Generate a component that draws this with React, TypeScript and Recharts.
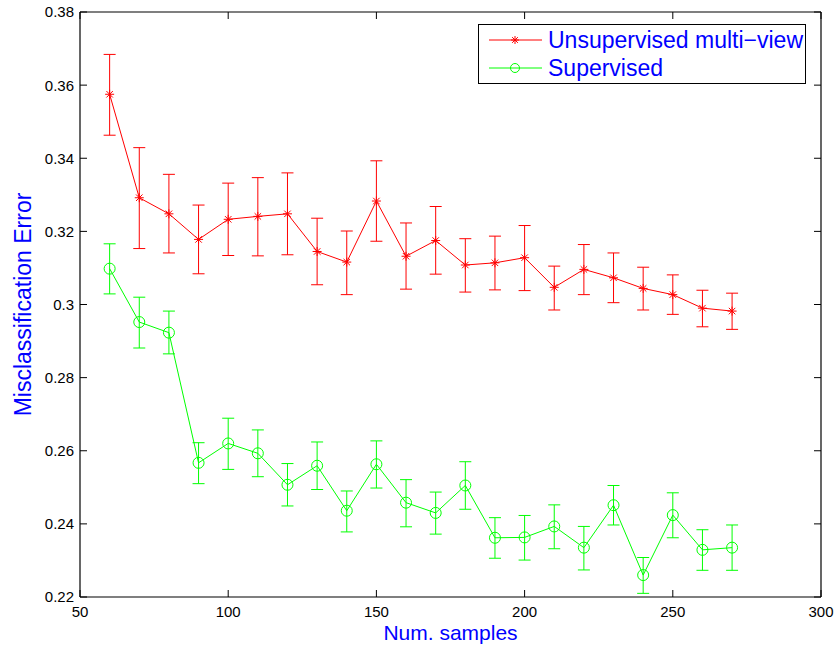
import {
  ComposedChart,
  Line,
  XAxis,
  YAxis,
  ErrorBar,
  Legend,
  ReferenceLine,
} from "recharts";

const samples = [60, 70, 80, 90, 100, 110, 120, 130, 140, 150, 160, 170, 180, 190, 200, 210, 220, 230, 240, 250, 260, 270];

const unsupMean = [0.3575, 0.3292, 0.3248, 0.3178, 0.3233, 0.3241, 0.3248, 0.3145, 0.3116, 0.3283, 0.3132, 0.3175, 0.3108, 0.3114, 0.3128, 0.3047, 0.3096, 0.3073, 0.3044, 0.3027, 0.299, 0.2982];
const unsupUpper = [0.3684, 0.3429, 0.3356, 0.3272, 0.3332, 0.3347, 0.336, 0.3236, 0.3201, 0.3393, 0.3223, 0.3268, 0.318, 0.3187, 0.3216, 0.3105, 0.3164, 0.3141, 0.3102, 0.3081, 0.3039, 0.3031];
const unsupLower = [0.3463, 0.3153, 0.3141, 0.3084, 0.3134, 0.3133, 0.3136, 0.3054, 0.3027, 0.3173, 0.3042, 0.3083, 0.3034, 0.304, 0.3038, 0.2985, 0.3027, 0.3005, 0.2985, 0.2973, 0.2939, 0.2932];

const supMean = [0.3098, 0.2952, 0.2923, 0.2567, 0.262, 0.2593, 0.2507, 0.2559, 0.2436, 0.2563, 0.2458, 0.243, 0.2505, 0.2362, 0.2363, 0.2393, 0.2335, 0.2451, 0.226, 0.2424, 0.2329, 0.2335];
const supUpper = [0.3166, 0.302, 0.2982, 0.2622, 0.2689, 0.2657, 0.2565, 0.2624, 0.249, 0.2627, 0.2521, 0.2487, 0.257, 0.2417, 0.2423, 0.2452, 0.2393, 0.2505, 0.2308, 0.2485, 0.2384, 0.2397];
const supLower = [0.3029, 0.2881, 0.2865, 0.251, 0.2549, 0.2529, 0.2449, 0.2494, 0.2378, 0.2498, 0.2392, 0.2372, 0.244, 0.2306, 0.2301, 0.2332, 0.2274, 0.2397, 0.221, 0.2362, 0.2273, 0.2273];

const seriesNames = ["Unsupervised multi−view", "Supervised"];

const xTicks = [50, 100, 150, 200, 250, 300];
const yTicks = [0.22, 0.24, 0.26, 0.28, 0.3, 0.32, 0.34, 0.36, 0.38];

const RED = "#ff0000";
const GREEN = "#00ff00";
const BLUE = "#0000ff";
const FONT = "'Liberation Sans', Arial, Helvetica, sans-serif";

// plot box (pixels) — follows from margins / axis sizes below
const PLOT_LEFT = 80;
const PLOT_RIGHT = 821;
const PLOT_TOP = 12;
const PLOT_BOTTOM = 597;
const TICK = 7;

const data = samples.map((x, i) => ({
  x,
  unsup: unsupMean[i],
  unsupErr: [unsupMean[i] - unsupLower[i], unsupUpper[i] - unsupMean[i]],
  sup: supMean[i],
  supErr: [supMean[i] - supLower[i], supUpper[i] - supMean[i]],
}));

function Star({ cx, cy, r = 4.5, color = RED }: any) {
  const d = r * 0.72;
  return (
    <g stroke={color} strokeWidth={1}>
      <line x1={cx - r} y1={cy} x2={cx + r} y2={cy} />
      <line x1={cx} y1={cy - r} x2={cx} y2={cy + r} />
      <line x1={cx - d} y1={cy - d} x2={cx + d} y2={cy + d} />
      <line x1={cx - d} y1={cy + d} x2={cx + d} y2={cy - d} />
    </g>
  );
}

function Ring({ cx, cy, r = 5.5, color = GREEN }: any) {
  return <circle cx={cx} cy={cy} r={r} fill="none" stroke={color} strokeWidth={1} />;
}

const fmtY = (v: number) => String(Number(v.toFixed(2)));

// inward ticks on bottom + mirrored on top
function XTick({ x, payload }: any) {
  return (
    <g>
      <line x1={x} y1={PLOT_BOTTOM} x2={x} y2={PLOT_BOTTOM - TICK} stroke="#000" />
      <line x1={x} y1={PLOT_TOP} x2={x} y2={PLOT_TOP + TICK} stroke="#000" />
      <text x={x} y={PLOT_BOTTOM + 20} textAnchor="middle" fill="#000" fontSize={15} fontFamily={FONT}>
        {payload.value}
      </text>
    </g>
  );
}

// inward ticks on left + mirrored on right
function YTick({ y, payload }: any) {
  return (
    <g>
      <line x1={PLOT_LEFT} y1={y} x2={PLOT_LEFT + TICK} y2={y} stroke="#000" />
      <line x1={PLOT_RIGHT} y1={y} x2={PLOT_RIGHT - TICK} y2={y} stroke="#000" />
      <text x={PLOT_LEFT - 6} y={y} dy="0.36em" textAnchor="end" fill="#000" fontSize={15} fontFamily={FONT}>
        {fmtY(payload.value)}
      </text>
    </g>
  );
}

function LegendBox({ payload }: any) {
  const items = [...(payload || [])].sort(
    (a: any, b: any) => seriesNames.indexOf(a.value) - seriesNames.indexOf(b.value)
  );
  return (
    <div
      style={{
        border: "1px solid #000",
        background: "#fff",
        padding: "1px 0",
        fontFamily: FONT,
      }}
    >
      {items.map((p: any) => (
        <div key={p.value} style={{ display: "flex", alignItems: "center", height: 28 }}>
          <svg width={69} height={28}>
            <line x1={10} y1={14} x2={63} y2={14} stroke={p.color} strokeWidth={1} />
            {p.dataKey === "unsup" ? (
              <Star cx={36} cy={14} r={4} color={p.color} />
            ) : (
              <Ring cx={36} cy={14} r={4.5} color={p.color} />
            )}
          </svg>
          <span style={{ color: BLUE, fontSize: 23, lineHeight: "28px", whiteSpace: "nowrap" }}>{p.value}</span>
        </div>
      ))}
    </div>
  );
}

export default function App() {
  return (
    <div style={{ position: "absolute", left: 0, top: 0, background: "#fff" }}>
      <ComposedChart
        width={837}
        height={645}
        data={data}
        margin={{ top: PLOT_TOP, right: 837 - PLOT_RIGHT, bottom: 0, left: 0 }}
      >
        <XAxis
          dataKey="x"
          type="number"
          domain={[50, 300]}
          ticks={xTicks}
          interval={0}
          height={645 - PLOT_BOTTOM}
          tickLine={false}
          stroke="#000"
          strokeWidth={1.2}
          tick={<XTick />}
          label={{
            content: (props: any) => {
              const vb = props.viewBox;
              return (
                <text
                  x={vb.x + vb.width / 2}
                  y={vb.y + 43}
                  textAnchor="middle"
                  fill={BLUE}
                  fontSize={21}
                  fontFamily={FONT}
                >
                  Num. samples
                </text>
              );
            },
          }}
        />
        <YAxis
          type="number"
          domain={[0.22, 0.38]}
          ticks={yTicks}
          interval={0}
          width={PLOT_LEFT}
          tickLine={false}
          stroke="#000"
          strokeWidth={1.2}
          tick={<YTick />}
          label={{
            content: (props: any) => {
              const vb = props.viewBox;
              const cx = vb.x + 23;
              const cy = vb.y + vb.height / 2;
              return (
                <text
                  x={cx}
                  y={cy}
                  transform={`rotate(-90 ${cx} ${cy})`}
                  textAnchor="middle"
                  dominantBaseline="central"
                  fill={BLUE}
                  fontSize={23}
                  fontFamily={FONT}
                >
                  Misclassification Error
                </text>
              );
            },
          }}
        />
        {/* top and right frame lines */}
        <ReferenceLine y={0.38} stroke="#000" strokeWidth={1.2} ifOverflow="visible" />
        <ReferenceLine x={300} stroke="#000" strokeWidth={1.2} ifOverflow="visible" />
        <Legend
          layout="vertical"
          align="center"
          verticalAlign="middle"
          content={<LegendBox />}
          wrapperStyle={{ left: 478, top: 24, width: 328 }}
        />
        <Line
          dataKey="unsup"
          name={seriesNames[0]}
          stroke={RED}
          strokeWidth={1}
          isAnimationActive={false}
          activeDot={false}
          dot={(p: any) => <Star key={`s-${p.index}`} cx={p.cx} cy={p.cy} />}
        >
          <ErrorBar dataKey="unsupErr" direction="y" width={6} stroke={RED} strokeWidth={1} isAnimationActive={false} />
        </Line>
        <Line
          dataKey="sup"
          name={seriesNames[1]}
          stroke={GREEN}
          strokeWidth={1}
          isAnimationActive={false}
          activeDot={false}
          dot={(p: any) => <Ring key={`c-${p.index}`} cx={p.cx} cy={p.cy} />}
        >
          <ErrorBar dataKey="supErr" direction="y" width={6} stroke={GREEN} strokeWidth={1} isAnimationActive={false} />
        </Line>
      </ComposedChart>
    </div>
  );
}
